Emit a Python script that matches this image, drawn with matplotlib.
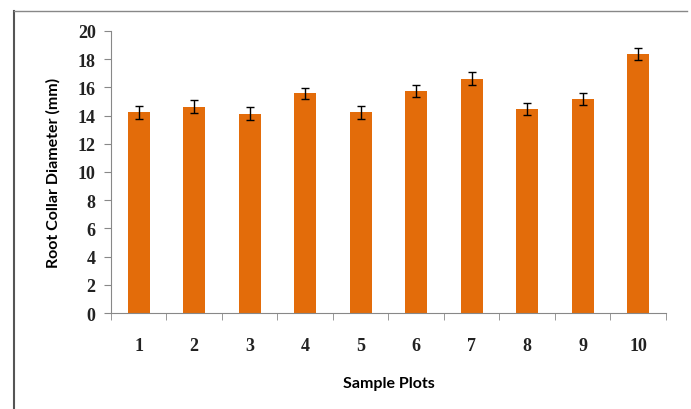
import matplotlib
matplotlib.use("Agg")
import matplotlib.pyplot as plt
from matplotlib.lines import Line2D
import numpy as np

# Data
plots = ["1", "2", "3", "4", "5", "6", "7", "8", "9", "10"]
diameter = [14.23, 14.63, 14.14, 15.58, 14.23, 15.74, 16.62, 14.47, 15.18, 18.37]
std_err = [0.45, 0.45, 0.45, 0.40, 0.45, 0.45, 0.45, 0.45, 0.40, 0.45]

fig = plt.figure(figsize=(6.91, 4.10), dpi=100)
ax = fig.add_axes([0.1606, 0.2341, 0.8032, 0.6879])

x = np.arange(len(plots))
ax.bar(x, diameter, width=0.4, color="#E36C0A",
       yerr=std_err, capsize=3,
       error_kw=dict(ecolor="black", elinewidth=1, capthick=1))

ax.set_xlim(-0.5, len(plots) - 0.5)
ax.set_ylim(0, 20)
ax.set_yticks(range(0, 21, 2))

# ticks between categories, labels at centres
ax.set_xticks(x)
ax.set_xticklabels(plots)
ax.set_xticks(np.arange(-0.5, len(plots), 1), minor=True)
ax.tick_params(axis="x", which="major", length=0, pad=17)
ax.tick_params(axis="x", which="minor", length=5, color="#888888", direction="out")
ax.tick_params(axis="y", length=5, color="#888888", direction="out", pad=6)

for lab in ax.get_xticklabels() + ax.get_yticklabels():
    lab.set_fontfamily("Liberation Serif")
    lab.set_fontweight("bold")
    lab.set_fontsize(13)
    lab.set_color("#222222")

for s in ["top", "right"]:
    ax.spines[s].set_visible(False)
for s in ["left", "bottom"]:
    ax.spines[s].set_color("#888888")

ax.set_ylabel("Root Collar Diameter (mm)", fontfamily="Lato",
              fontweight="bold", fontsize=11.5, labelpad=12)
ax.set_xlabel("Sample Plots", fontfamily="Lato",
              fontweight="bold", fontsize=11.5, labelpad=16)

# outer frame lines (left and top)
fig.add_artist(Line2D([14 / 691, 14 / 691], [0, 1 - 12 / 410],
                      transform=fig.transFigure, color="#555555", lw=1.5))
fig.add_artist(Line2D([14 / 691, 687 / 691], [1 - 12 / 410, 1 - 12 / 410],
                      transform=fig.transFigure, color="#888888", lw=1))

fig.savefig("out.png", dpi=100)
